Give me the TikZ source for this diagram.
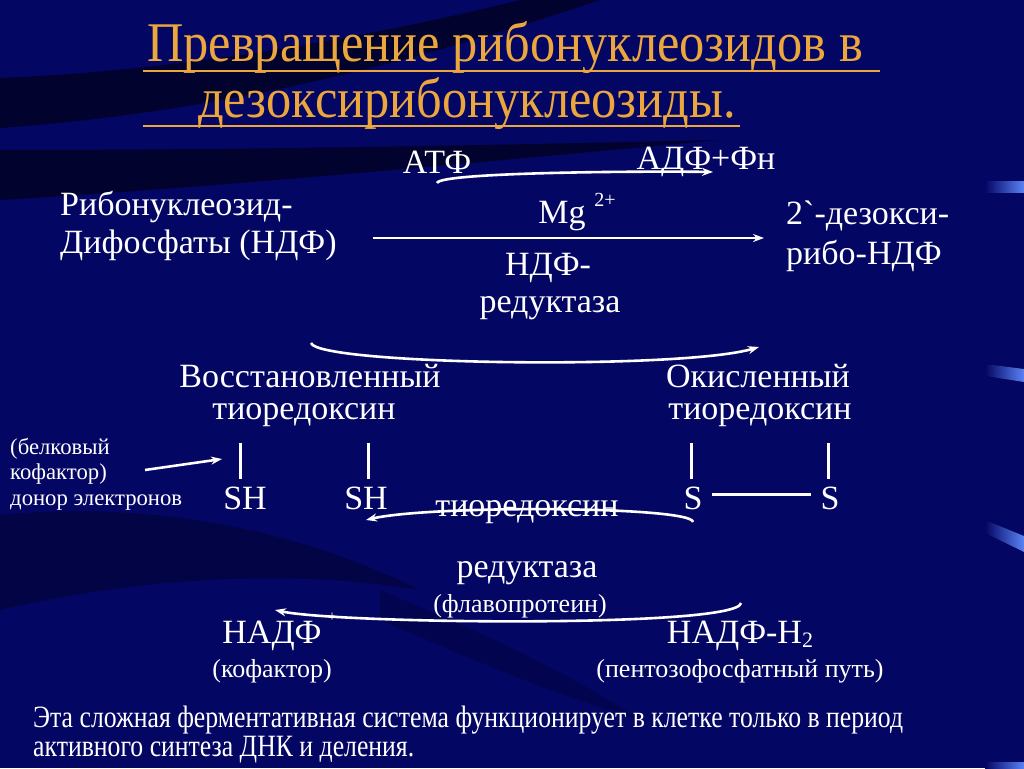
\documentclass[tikz,border=0pt]{standalone}
\usepackage{fontspec}
\setmainfont{Liberation Serif}
\newfontfamily\rawfont{Liberation Serif}[Ligatures=TeXOff]
\newfontfamily\condfont[FakeStretch=0.9]{Liberation Serif}
\newfontfamily\notefont[FakeStretch=0.83]{Liberation Serif}
\usetikzlibrary{arrows.meta}
\definecolor{navy}{RGB}{4,6,100}
\definecolor{titleor}{RGB}{236,166,62}
\definecolor{barblue}{RGB}{90,130,245}
\begin{document}
\begin{tikzpicture}[x=1pt,y=-1pt,
  lbl/.style={text=white,inner sep=0pt,font=\fontsize{34}{40}\selectfont},
  sml/.style={text=white,inner sep=0pt,font=\fontsize{22.7}{26}\selectfont},
  mid/.style={text=white,inner sep=0pt,font=\fontsize{26}{30}\selectfont},
  sup/.style={text=white,inner sep=0pt,font=\fontsize{20}{22}\selectfont},
  tiny/.style={text=white,inner sep=0pt,font=\fontsize{15}{18}\selectfont},
  ttl/.style={text=titleor,inner sep=0pt,font=\fontsize{56}{62}\condfont},
  note/.style={text=white,inner sep=0pt,font=\fontsize{31}{34}\notefont},
  arr/.style={draw=white,line width=2.6pt,-{Stealth[length=11pt,width=8pt]}},
  bond/.style={draw=white,line width=3pt},
  uline/.style={draw=titleor,line width=2.5pt},
  swoosh/.style={fill=black,opacity=0.55},
  bar/.style={left color=navy,right color=barblue}]
\useasboundingbox (0,0) rectangle (1024,768);
\fill[navy] (0,0) rectangle (1024,768);
% background swooshes
\fill[swoosh] (0,78) .. controls (200,70) and (400,30) .. (520,0) -- (600,0) .. controls (450,50) and (250,110) .. (0,128) -- cycle;
\fill[swoosh] (0,150) .. controls (250,150) and (500,145) .. (720,140) .. controls (500,160) and (250,185) .. (0,200) -- cycle;
\fill[swoosh,opacity=0.3] (0,515) .. controls (150,500) and (300,530) .. (420,590) .. controls (300,570) and (150,575) .. (0,610) -- cycle;
\fill[swoosh,opacity=0.2] (380,590) .. controls (450,620) and (550,660) .. (640,720) .. controls (540,690) and (450,650) .. (380,620) -- cycle;
% right bars
\fill[bar] (985,181) rectangle (1024,192);
\fill[bar] (985,364) -- (1024,369) -- (1024,382) -- (985,376) -- cycle;
\fill[bar] (985,520) -- (1024,536) -- (1024,552) -- (985,533) -- cycle;
\fill[bar] (985,762) rectangle (1024,768);

% title
\node[ttl] (t1) at (505,47) {Превращение рибонуклеозидов в};
\node[ttl] (t2) at (467,103) {дезоксирибонуклеозиды.};
\coordinate (u1a) at (143,71); \coordinate (u1b) at (880,71);
\coordinate (u2a) at (143,126); \coordinate (u2b) at (740,126);
\draw[uline] (u1a) -- (u1b);
\draw[uline] (u2a) -- (u2b);

% first reaction
\node[lbl,anchor=west] (ndf1) at (60,207) {Рибонуклеозид-};
\node[lbl,anchor=west] (ndf2) at (60,245) {Дифосфаты (НДФ)};
\node[lbl,anchor=west] (d1) at (786,216) {2{\rawfont`}-дезокси-};
\node[lbl,anchor=west] (d2) at (786,256) {рибо-НДФ};
\node[lbl] (atp) at (437,162) {АТФ};
\node[lbl] (adp) at (706,162) {АДФ+Фн};
\node[lbl] (mg) at (562,216) {Mg};
\node[sup] (mg2) at (605,200) {2+};
\node[lbl] (red1) at (548,268) {НДФ-};
\node[lbl] (red2) at (550,308) {редуктаза};
\coordinate (m1) at (373,238); \coordinate (m2) at (764,238);
\draw[arr] (m1) -- (m2);
\coordinate (a1) at (437,183); \coordinate (a2) at (713,172);
\draw[arr] (a1) .. controls (440,172) and (650,171) .. (a2);

% thioredoxin
\coordinate (b1) at (311,343); \coordinate (b2) at (759,347);
\draw[arr] (b1) .. controls (318,365) and (680,370) .. (b2);
\node[lbl] (vos) at (310,376) {Восстановленный};
\node[lbl] (tio1) at (304,415) {тиоредоксин};
\node[lbl] (oks) at (758,376) {Окисленный};
\node[lbl] (tio2) at (760,415) {тиоредоксин};

\node[sml,anchor=west] (bk1) at (10,449) {(белковый};
\node[sml,anchor=west] (bk2) at (10,474) {кофактор)};
\node[sml,anchor=west] (bk3) at (10,503) {донор электронов};
\coordinate (c1) at (145,470); \coordinate (c2) at (222,459);
\draw[arr] (c1) -- (c2);

\node[lbl] (sh1) at (245,498) {SH};
\node[lbl] (sh2) at (366,498) {SH};
\node[lbl] (s1) at (693,498) {S};
\node[lbl] (s2) at (830,498) {S};
\draw[bond] (240,443) -- (240,479);
\draw[bond] (368,443) -- (368,479);
\draw[bond] (691,443) -- (691,479);
\draw[bond] (828,443) -- (828,479);
\draw[bond] ([xshift=9pt,yshift=4pt]s1.east) -- ([xshift=-9pt,yshift=4pt]s2.west);

\node[lbl] (tr1) at (527,512) {тиоредоксин};
\node[lbl] (tr2) at (527,573) {редуктаза};
\node[mid] (flav) at (520,606) {(флавопротеин)};
\coordinate (e1) at (693,522); \coordinate (e2) at (366,520);
\draw[arr] (e1) .. controls (692,506) and (430,505) .. (e2);

% NADP
\node[lbl] (nadp) at (272,636) {НАДФ};
\node[tiny] (plus) at (332,617) {+};
\node[mid] (kof) at (272,671) {(кофактор)};
\node[lbl] (nadph) at (740,636) {НАДФ-Н\raisebox{-4pt}{\fontsize{22}{22}\selectfont 2}};
\node[mid] (pent) at (740,671) {(пентозофосфатный путь)};
\coordinate (f1) at (741,603); \coordinate (f2) at (275,610);
\draw[arr] (f1) .. controls (738,628) and (340,624) .. (f2);

% note
\node[note,anchor=west] (n1) at (33,720) {Эта сложная ферментативная система функционирует в клетке только в период};
\node[note,anchor=west] (n2) at (33,750) {активного синтеза ДНК и деления.};
\end{tikzpicture}
\end{document}
